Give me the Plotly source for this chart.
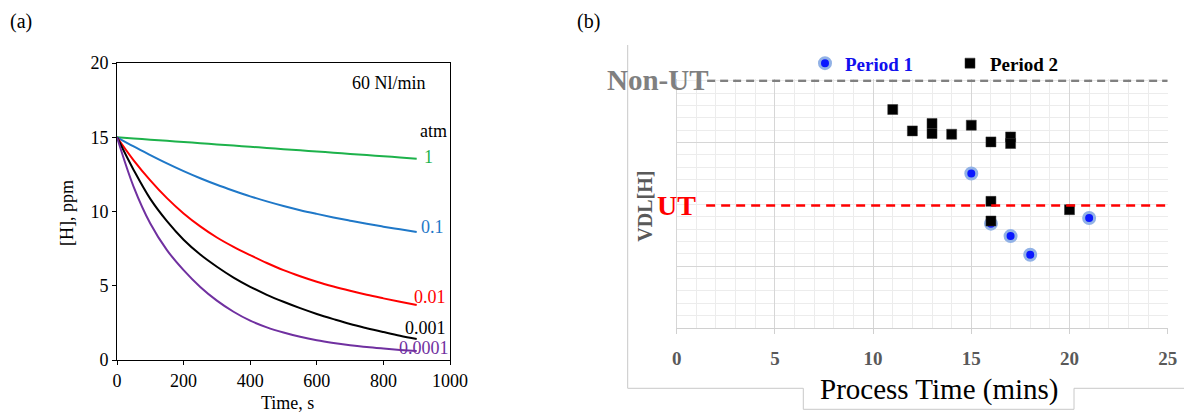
import plotly.graph_objects as go

W, H = 1184, 414
def px(x): return x / W
def py(y): return 1 - y / H

# ---------------- data: panel (a) ----------------
time_s = [0, 50, 100, 150, 200, 250, 300, 350, 400, 450, 500, 550, 600, 650, 700, 750, 800, 850, 900]
h_1atm = [15.0, 14.92, 14.84, 14.76, 14.68, 14.6, 14.52, 14.44, 14.36, 14.28, 14.2, 14.12, 14.04,
          13.96, 13.88, 13.8, 13.72, 13.64, 13.56]
h_01atm = [15.0, 14.38, 13.8, 13.24, 12.72, 12.24, 11.80, 11.40, 11.02, 10.68, 10.37, 10.09, 9.84,
           9.60, 9.38, 9.17, 8.98, 8.80, 8.62]
h_001atm = [15.0, 13.45, 12.1, 10.9, 9.87, 9.0, 8.25, 7.62, 7.06, 6.53, 6.05, 5.64, 5.27,
            4.95, 4.66, 4.39, 4.15, 3.92, 3.70]
h_0001atm = [15.0, 12.8, 10.85, 9.35, 8.1, 7.1, 6.28, 5.55, 4.93, 4.39, 3.92, 3.49, 3.1,
             2.75, 2.42, 2.14, 1.88, 1.63, 1.41]
h_00001atm = [15.0, 11.66, 9.19, 7.4, 6.05, 4.92, 4.0, 3.25, 2.65, 2.2, 1.85, 1.56, 1.33,
              1.15, 1.0, 0.87, 0.77, 0.68, 0.6]
pressure_labels = ["1", "0.1", "0.01", "0.001", "0.0001"]

# ---------------- data: panel (b) ----------------
p1_time = [15, 16, 17, 18, 21]
p1_vdl = [12.5, 8.44, 7.43, 5.92, 8.89]
p2_time = [11, 12, 13, 13, 14, 15, 16, 17, 17, 16, 16, 20]
p2_vdl = [17.67, 15.94, 16.54, 15.73, 15.67, 16.40, 15.05, 15.45, 14.92, 10.24, 8.65, 9.57]
ut_level = 9.9
non_ut_level = 20
x_ticks_b = [0, 5, 10, 15, 20, 25]

SERIF = "Liberation Serif"
colors = ["#1db24b", "#1f78c8", "#ff0000", "#000000", "#7030a0"]
series = [h_1atm, h_01atm, h_001atm, h_0001atm, h_00001atm]

fig = go.Figure()
for vals, c in zip(series, colors):
    fig.add_trace(go.Scatter(x=time_s, y=vals, mode="lines", line=dict(color=c, width=2, shape="spline", smoothing=1),
                             showlegend=False, xaxis="x", yaxis="y"))

fig.add_trace(go.Scatter(x=p1_time, y=p1_vdl, mode="markers",
                         name="<b><span style='color:#1010ee'>Period 1</span></b>",
                         marker=dict(symbol="circle", size=11, color="#0a18ff", line=dict(color="#92b2e6", width=3)),
                         xaxis="x2", yaxis="y2", legendrank=1))
fig.add_trace(go.Scatter(x=p2_time, y=p2_vdl, mode="markers", name="<b>Period 2</b>",
                         marker=dict(symbol="square", size=10, color="#000000", line=dict(color="#333333", width=0.5)),
                         xaxis="x2", yaxis="y2", legendrank=2))

axis_a = dict(showline=True, linecolor="#000000", linewidth=1, mirror=True, ticks="outside", ticklen=4,
              tickcolor="#000000", showgrid=False, zeroline=False,
              tickfont=dict(family=SERIF, size=18, color="#000000"))
fig.update_layout(
    xaxis=dict(domain=[px(117), px(450)], range=[0, 1000], dtick=200, anchor="y", **axis_a),
    yaxis=dict(domain=[py(360), py(63)], range=[0, 20], dtick=5, anchor="x", **axis_a),
    xaxis2=dict(domain=[px(676.7), px(1167.7)], range=[0, 25], tickvals=x_ticks_b, anchor="y2",
                showline=True, linecolor="#d0d0d0", linewidth=1, ticks="outside", ticklen=5, tickcolor="#d0d0d0",
                showgrid=True, gridcolor="#d6d6d6", gridwidth=1, zeroline=False,
                minor=dict(dtick=1, showgrid=True, gridcolor="#ececec", gridwidth=1),
                tickfont=dict(family=SERIF, size=19, color="#595959", weight="bold"), ticklabelstandoff=8),
    yaxis2=dict(domain=[py(328), py(79.2)], range=[0, 20.12], tick0=5, dtick=10, anchor="x2",
                showticklabels=False, showline=True, linecolor="#d6d6d6", linewidth=1,
                showgrid=True, gridcolor="#d6d6d6", gridwidth=1, zeroline=False,
                minor=dict(dtick=1, showgrid=True, gridcolor="#ececec", gridwidth=1)),
    width=W, height=H, margin=dict(l=0, r=0, t=0, b=0, pad=0, autoexpand=False),
    paper_bgcolor="white", plot_bgcolor="white",
    legend=dict(orientation="h", x=px(805), y=py(63.3), xanchor="left", yanchor="middle",
                font=dict(family=SERIF, size=19, color="#000000"), entrywidth=100,
                bgcolor="rgba(0,0,0,0)", traceorder="normal", itemwidth=30),
)

# reference lines in panel (b)
fig.add_shape(type="line", xref="x2", yref="y2", x0=1.55, x1=25, y0=non_ut_level, y1=non_ut_level,
              line=dict(color="#808080", width=2.5, dash="8px,5px"))
fig.add_shape(type="line", xref="x2", yref="y2", x0=1.5, x1=25, y0=ut_level, y1=ut_level,
              line=dict(color="#ff0000", width=2.5, dash="9px,6px"))

# frame around panel (b)
frame_col = "#c8c8c8"
fig.add_shape(type="path", xref="paper", yref="paper",
              path=(f"M {px(627.7)} {py(45)} L {px(627.7)} {py(388.3)} L {px(803.3)} {py(388.3)} "
                    f"L {px(803.3)} {py(409.3)} L {px(1074)} {py(409.3)} L {px(1074)} {py(388.3)} "
                    f"L {px(1184)} {py(388.3)}"),
              line=dict(color=frame_col, width=1))

ann = []
def A(text, x, y, size, color="#000000", xref="paper", yref="paper", xanchor="center", yanchor="middle",
      bold=False, angle=0):
    ann.append(dict(text=text, x=x, y=y, xref=xref, yref=yref, xanchor=xanchor, yanchor=yanchor,
                    showarrow=False, textangle=angle,
                    font=dict(family=SERIF, size=size, color=color, weight="bold" if bold else "normal")))

A("(a)", px(21.5), py(21), 20)
A("(b)", px(588.5), py(21), 20)
A("[H], ppm", px(67), py(213), 18, angle=-90)
A("Time, s", px(287), py(402.5), 18)
A("60 Nl/min", px(388.5), py(82.7), 18)
A("atm", px(418), py(131), 18, xanchor="left")
label_pos = [(421.5, 156.7), (419, 227), (412, 297), (403, 328), (397, 348)]
for lab, c, (lx, ly) in zip(pressure_labels, colors, label_pos):
    A(lab, px(lx), py(ly), 18, color=c, xanchor="left")

A("Non-UT", px(658), py(80.5), 29, color="#808080", bold=True)
A("UT", 0, ut_level, 28, color="#ff0000", xref="x2", yref="y2", bold=True)
A("VDL[H]", px(645), py(206.7), 20, color="#595959", bold=True, angle=-90)
A("Process Time (mins)", px(939), py(389), 29)
fig.update_layout(annotations=ann)

fig.write_html("out.html")
